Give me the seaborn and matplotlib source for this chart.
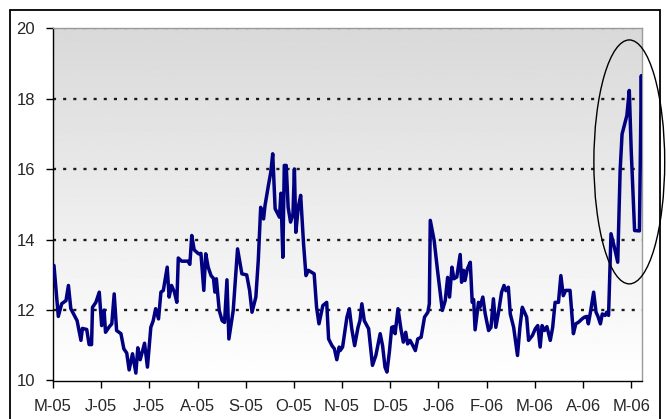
import numpy as np
import pandas as pd
import matplotlib
matplotlib.use("Agg")
import matplotlib.pyplot as plt
from matplotlib.patches import Ellipse, Rectangle
import seaborn as sns

# x position in months since May-05 (category axis), y value
months = [0.02, 0.11, 0.18, 0.27, 0.32, 0.37, 0.46, 0.50, 0.58, 0.61, 0.70, 0.75, 0.80, 0.82, 0.89,
          0.96, 1.01, 1.06, 1.09, 1.17, 1.22, 1.27, 1.32, 1.41, 1.47, 1.53, 1.58, 1.65, 1.72, 1.76,
          1.81, 1.90, 1.96, 2.03, 2.08, 2.13, 2.19, 2.24, 2.29, 2.37, 2.41, 2.46, 2.52, 2.57, 2.60,
          2.67, 2.80, 2.84, 2.88, 2.93, 3.02, 3.07, 3.13, 3.17, 3.22, 3.28, 3.33, 3.36, 3.39, 3.45,
          3.51, 3.56, 3.61, 3.65, 3.74, 3.83, 3.92, 4.02, 4.08, 4.13, 4.21, 4.26, 4.31, 4.37, 4.40,
          4.47, 4.52, 4.56, 4.61, 4.66, 4.70, 4.73, 4.77, 4.80, 4.84, 4.88, 4.93, 4.98, 5.01, 5.04,
          5.09, 5.14, 5.20, 5.25, 5.30, 5.42, 5.47, 5.52, 5.60, 5.68, 5.72, 5.79, 5.84, 5.89, 5.94,
          5.96, 6.01, 6.10, 6.15, 6.20, 6.26, 6.33, 6.37, 6.41, 6.46, 6.55, 6.63, 6.70, 6.79, 6.84,
          6.89, 6.93, 6.98, 7.03, 7.07, 7.10, 7.16, 7.22, 7.27, 7.32, 7.36, 7.41, 7.47, 7.52, 7.57,
          7.64, 7.71, 7.78, 7.81, 7.83, 7.91, 7.98, 8.03, 8.08, 8.14, 8.19, 8.23, 8.28, 8.32, 8.38,
          8.45, 8.48, 8.52, 8.55, 8.60, 8.66, 8.70, 8.73, 8.76, 8.83, 8.86, 8.92, 8.97, 9.04, 9.09,
          9.14, 9.19, 9.24, 9.31, 9.36, 9.40, 9.45, 9.49, 9.56, 9.64, 9.69, 9.74, 9.83, 9.87, 9.95,
          10.01, 10.06, 10.11, 10.15, 10.20, 10.25, 10.32, 10.37, 10.42, 10.49, 10.54, 10.59, 10.64, 10.73, 10.80,
          10.85, 10.91, 10.98, 11.03, 11.08, 11.11, 11.16, 11.22, 11.27, 11.31, 11.36, 11.40, 11.46, 11.49, 11.53,
          11.58, 11.65, 11.72, 11.77, 11.81, 11.91, 11.96, 12.00, 12.07, 12.17, 12.21, 12.23]
values = [13.27, 11.82, 12.18, 12.27, 12.70, 12.04, 11.80, 11.70, 11.14, 11.48, 11.45, 11.02, 11.02, 12.08, 12.22,
          12.51, 11.56, 12.00, 11.37, 11.53, 11.61, 12.46, 11.42, 11.33, 10.90, 10.78, 10.30, 10.76, 10.21, 10.93,
          10.59, 11.06, 10.38, 11.51, 11.70, 12.04, 11.75, 12.51, 12.56, 13.22, 12.37, 12.70, 12.51, 12.22, 13.48,
          13.39, 13.39, 13.30, 14.12, 13.71, 13.60, 13.61, 12.56, 13.60, 13.22, 12.98, 12.90, 12.51, 12.89, 11.99,
          11.70, 11.65, 12.86, 11.18, 11.99, 13.74, 13.03, 13.00, 12.56, 11.94, 12.37, 13.41, 14.92, 14.59, 14.97,
          15.54, 15.92, 16.44, 14.88, 14.75, 14.64, 15.32, 13.50, 16.11, 16.11, 14.92, 14.50, 14.73, 16.01, 14.21,
          14.92, 15.26, 13.88, 12.98, 13.13, 13.03, 12.08, 11.61, 12.13, 12.22, 11.18, 10.99, 10.90, 10.59, 10.95,
          10.85, 10.95, 11.80, 12.04, 11.47, 10.99, 11.51, 11.70, 12.18, 11.70, 11.47, 10.43, 10.71, 11.33, 10.99,
          10.38, 10.24, 10.80, 11.51, 11.53, 11.33, 12.04, 11.47, 11.09, 11.37, 11.04, 11.14, 10.99, 10.85, 11.18,
          11.23, 11.80, 11.94, 12.18, 14.55, 13.98, 13.13, 12.56, 11.99, 12.27, 12.93, 12.37, 13.22, 12.89, 12.94,
          13.58, 12.79, 13.13, 12.84, 13.17, 13.36, 12.22, 12.30, 11.44, 12.22, 12.08, 12.37, 11.89, 11.42, 11.51,
          12.32, 11.51, 11.89, 12.51, 12.70, 12.55, 12.65, 11.89, 11.51, 10.71, 11.51, 12.08, 11.80, 11.14, 11.28,
          11.47, 11.56, 10.95, 11.56, 11.42, 11.53, 11.14, 11.51, 12.22, 12.22, 12.98, 12.41, 12.56, 12.56, 11.33,
          11.61, 11.66, 11.75, 11.80, 11.82, 11.61, 11.99, 12.51, 11.94, 11.82, 11.61, 11.89, 11.85, 11.94, 11.85,
          14.17, 13.79, 13.36, 15.97, 17.00, 17.53, 18.24, 16.53, 14.26, 14.25, 18.66, 16.44]

tick_labels = ["M-05", "J-05", "J-05", "A-05", "S-05", "O-05", "N-05", "D-05",
               "J-06", "F-06", "M-06", "A-06", "M-06"]
y_ticks = [10, 12, 14, 16, 18, 20]

df = pd.DataFrame({"month": months, "value": values})

sns.set_style("white")
plt.rcParams["font.family"] = ["Liberation Sans", "DejaVu Sans"]

W, H = 666, 419
fig = plt.figure(figsize=(W / 100, H / 100), dpi=100)
ax = fig.add_axes([53 / W, 1 - 380.5 / H, (642.3 - 53) / W, (380.5 - 28.5) / H])

xmax = 12.23
ax.set_xlim(0, xmax)
ax.set_ylim(10, 20)

# gradient background (grey top -> white bottom)
grad = np.linspace(1.0, 0.85, 256).reshape(-1, 1)
ax.imshow(grad, extent=[0, xmax, 10, 20], origin="lower", aspect="auto",
          cmap="gray", vmin=0, vmax=1, zorder=0, interpolation="bilinear")

# dotted gridlines
for yv in y_ticks[1:]:
    col = "#7f7f7f" if yv == 20 else "#1a1a1a"
    ax.axhline(yv, color=col, lw=1.7, linestyle=(0, (1.3, 3.0)), zorder=1)

sns.lineplot(data=df, x="month", y="value", ax=ax, estimator=None, sort=False,
             color="#000080", lw=2.5, zorder=3, legend=False)
for l in ax.lines:
    l.set_solid_joinstyle("round")

ax.set_xticks(range(len(tick_labels)))
ax.set_xticklabels(tick_labels)
ax.set_yticks(y_ticks)
ax.set_yticklabels([str(v) for v in y_ticks])
ax.set_xlabel("")
ax.set_ylabel("")
ax.tick_params(axis="x", direction="out", length=5, width=1, color="black",
               labelsize=12, pad=8, bottom=True)
ax.tick_params(axis="y", direction="out", length=5, width=1, color="black",
               labelsize=12, pad=8, left=True)

for side in ["left", "bottom"]:
    ax.spines[side].set_color("black")
    ax.spines[side].set_linewidth(1)
for side in ["top", "right"]:
    ax.spines[side].set_visible(True)
    ax.spines[side].set_color("#9a9a9a")
    ax.spines[side].set_linewidth(1)

# ellipse annotation
ell = Ellipse((11.96, 16.21), width=1.47, height=6.93, fill=False,
              edgecolor="black", lw=1.0, clip_on=False, zorder=5)
ax.add_patch(ell)

# outer chart frame
frame = Rectangle((10.5 / W, -0.05), (660 - 10.5) / W, 1.05 - 10.5 / H,
                  transform=fig.transFigure, fill=False, edgecolor="black",
                  lw=1.3, clip_on=False)
fig.patches.append(frame)

fig.savefig("out.png", dpi=100)
